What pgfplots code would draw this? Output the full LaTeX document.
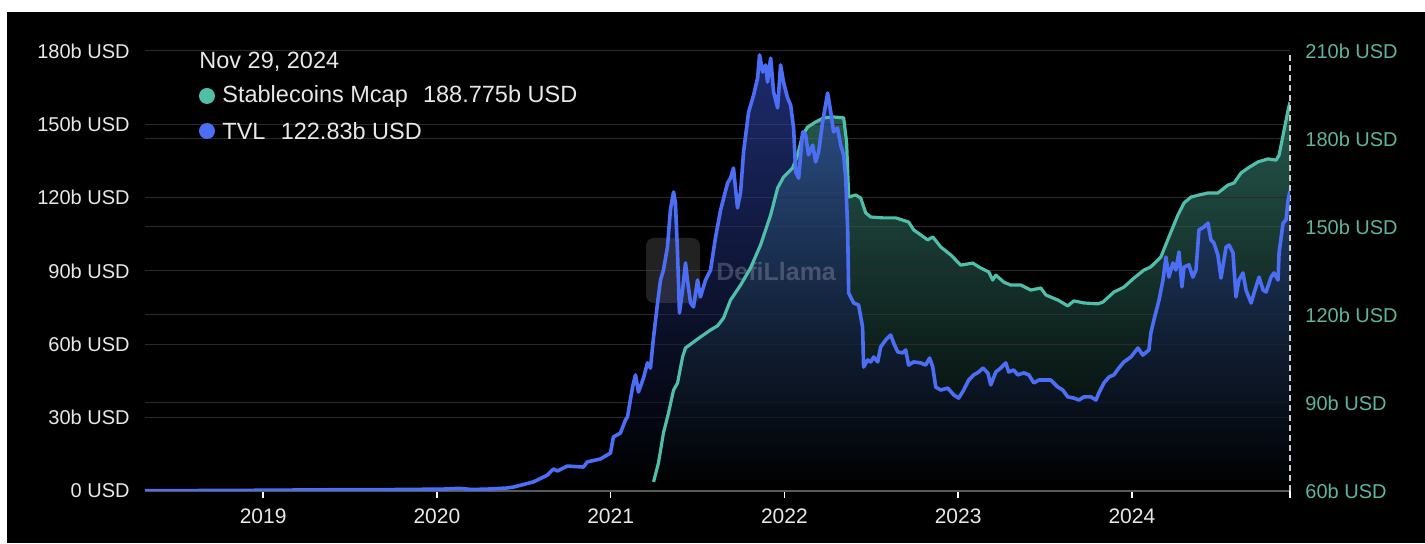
\documentclass[border=0pt]{standalone}
\usepackage{pgfplots}
\pgfplotsset{compat=1.18}
\usepackage{pgfplotstable}
\usepackage{fontspec}
\setmainfont{Liberation Sans}
\definecolor{tvl}{RGB}{75,110,245}
\definecolor{tvlfill}{RGB}{55,80,200}
\definecolor{stab}{RGB}{80,190,168}
\definecolor{stabfill}{RGB}{58,135,118}
\definecolor{stablab}{RGB}{95,180,160}
\definecolor{gridc}{RGB}{42,42,42}
\definecolor{txt}{RGB}{232,232,232}

\pgfplotstableread{
year tvl
2018.32 0.1
2018.70 0.2
2019.00 0.3
2019.40 0.5
2019.80 0.6
2020.05 0.8
2020.13 1.1
2020.20 0.6
2020.30 0.8
2020.40 1.2
2020.440 1.6
2020.555 3.7
2020.636 6.5
2020.670 9.0
2020.694 8.2
2020.751 10.2
2020.843 9.8
2020.866 11.9
2020.941 13.1
2020.999 15.5
2021.016 22.1
2021.056 23.7
2021.085 29.0
2021.097 30.3
2021.126 42.5
2021.143 47.5
2021.160 40.5
2021.189 46.2
2021.212 52.4
2021.229 50.3
2021.247 63.0
2021.270 76.9
2021.287 86.3
2021.304 90.4
2021.327 99.8
2021.344 115.0
2021.362 122.3
2021.373 117.8
2021.385 97.4
2021.396 72.8
2021.414 82.2
2021.431 93.3
2021.442 86.3
2021.460 76.9
2021.477 75.3
2021.500 86.3
2021.517 79.4
2021.546 86.3
2021.575 90.4
2021.604 103.9
2021.633 115.0
2021.673 126.0
2021.690 128.0
2021.707 132.1
2021.730 115.8
2021.748 122.3
2021.765 138.7
2021.794 155.0
2021.823 162.0
2021.846 169.0
2021.857 178.4
2021.875 171.4
2021.892 174.3
2021.903 167.3
2021.921 177.1
2021.938 163.2
2021.961 156.7
2021.978 174.3
2021.995 167.3
2022.018 160.8
2022.036 157.9
2022.053 148.5
2022.065 130.5
2022.082 128.0
2022.105 146.9
2022.122 145.6
2022.139 137.5
2022.163 141.5
2022.180 134.6
2022.197 138.7
2022.220 151.0
2022.249 162.8
2022.267 155.0
2022.283 146.9
2022.306 148.5
2022.324 141.5
2022.341 137.5
2022.353 128.0
2022.364 107.6
2022.370 81.0
2022.381 79.4
2022.399 76.9
2022.427 76.1
2022.450 67.1
2022.456 50.7
2022.479 53.6
2022.497 52.8
2022.514 54.8
2022.537 52.8
2022.554 58.9
2022.583 61.8
2022.612 63.8
2022.629 60.5
2022.652 56.9
2022.681 56.5
2022.698 57.7
2022.715 51.5
2022.744 52.8
2022.785 52.4
2022.813 51.5
2022.836 54.4
2022.854 50.7
2022.871 42.5
2022.900 41.3
2022.940 42.1
2022.975 39.3
2023.003 38.0
2023.032 41.3
2023.061 45.4
2023.090 47.5
2023.119 48.7
2023.142 50.3
2023.171 48.3
2023.188 43.4
2023.217 48.7
2023.245 50.3
2023.274 52.4
2023.291 48.7
2023.320 49.5
2023.343 47.5
2023.378 48.3
2023.407 47.5
2023.436 44.2
2023.464 45.4
2023.505 45.4
2023.533 45.4
2023.574 42.5
2023.602 41.3
2023.631 38.5
2023.666 38.0
2023.695 37.2
2023.724 38.5
2023.764 38.5
2023.793 37.2
2023.810 40.1
2023.839 44.2
2023.868 46.6
2023.896 47.5
2023.925 50.3
2023.954 52.8
2023.994 54.8
2024.035 58.5
2024.063 55.6
2024.098 57.7
2024.109 64.6
2024.127 70.0
2024.156 78.1
2024.179 86.3
2024.196 95.7
2024.213 87.5
2024.236 93.3
2024.253 90.4
2024.271 97.8
2024.288 83.5
2024.300 91.6
2024.328 92.5
2024.351 87.5
2024.369 90.4
2024.386 106.8
2024.415 108.0
2024.438 109.6
2024.455 102.7
2024.472 101.5
2024.495 96.5
2024.513 87.1
2024.542 99.8
2024.559 100.6
2024.582 97.4
2024.599 79.4
2024.616 86.3
2024.639 89.2
2024.657 82.2
2024.686 76.9
2024.703 81.0
2024.732 87.5
2024.755 82.2
2024.772 81.4
2024.801 87.5
2024.818 89.2
2024.841 86.3
2024.847 97.4
2024.870 109.6
2024.887 110.9
2024.899 119.0
2024.910 122.8
}\tvltable

\pgfplotstableread{
year stab
2021.247 63.1
2021.275 69.5
2021.304 79.8
2021.333 86.6
2021.362 94.4
2021.385 96.8
2021.414 105.7
2021.431 108.8
2021.471 110.5
2021.517 112.5
2021.575 114.9
2021.615 116.3
2021.650 119.0
2021.690 125.1
2021.748 130.2
2021.805 136.0
2021.863 143.9
2021.921 154.1
2021.961 163.3
2021.995 167.0
2022.047 170.1
2022.076 174.5
2022.105 181.4
2022.134 184.1
2022.180 185.8
2022.226 187.2
2022.283 187.5
2022.341 187.2
2022.358 179.0
2022.370 160.2
2022.410 160.9
2022.439 159.9
2022.468 154.8
2022.497 153.4
2022.571 153.1
2022.641 153.1
2022.715 151.7
2022.744 149.0
2022.785 147.3
2022.825 145.6
2022.854 146.6
2022.900 143.2
2022.957 140.5
2023.015 137.0
2023.084 137.7
2023.130 136.0
2023.176 134.7
2023.199 131.9
2023.217 133.6
2023.263 131.2
2023.303 130.2
2023.361 130.2
2023.418 128.5
2023.476 129.2
2023.505 126.8
2023.574 125.1
2023.631 123.1
2023.666 124.8
2023.724 124.1
2023.804 123.8
2023.833 124.4
2023.896 127.8
2023.954 129.5
2024.012 132.6
2024.069 135.3
2024.109 136.4
2024.167 139.8
2024.213 146.6
2024.265 154.1
2024.300 158.2
2024.340 160.2
2024.386 160.9
2024.438 161.6
2024.495 161.6
2024.553 164.3
2024.588 165.0
2024.628 168.4
2024.668 170.1
2024.726 172.2
2024.783 173.2
2024.830 172.8
2024.847 174.5
2024.876 183.1
2024.899 189.9
2024.910 192.6
}\stabtable

\pgfplotsset{
  base/.style={width=572.5pt,height=220pt,scale only axis,at={(0pt,0pt)},anchor=south west,
    xmin=2018.32,xmax=2024.91,
    axis line style={draw=none}, tick style={draw=none},
    xtick={2019,2020,2021,2022,2023,2024},
    ticklabel style={font=\fontsize{10}{12}\selectfont},
    major grid style={gridc,line width=0.5pt}},
}

\begin{document}
\begin{tikzpicture}
\fill[white] (-72.5pt,-26.5pt) rectangle (640pt,245.5pt);
\fill[black] (-69pt,-26pt) rectangle (640pt,239.5pt);

% stablecoin fill (right scale) + right grid
\begin{axis}[base, ymin=60, ymax=210, ytick={60,90,...,210}, ymajorgrids,
  xticklabels={}, yticklabels={}]
\addplot[draw=none, top color=stabfill, bottom color=black, fill opacity=0.66]
  table[x=year,y=stab]{\stabtable} -- (axis cs:2024.91,60) -- (axis cs:2021.247,60) -- cycle;
\end{axis}

% TVL fill (left scale) + left grid
\begin{axis}[base, ymin=0, ymax=180, ytick={0,30,...,180}, ymajorgrids,
  xticklabels={}, yticklabels={}]
\addplot[draw=none, top color=tvlfill, bottom color=black, fill opacity=0.55]
  table[x=year,y=tvl]{\tvltable} \closedcycle;
\end{axis}

% watermark
\fill[gray!60!black, opacity=0.45, rounded corners=4pt] (250.5pt,94pt) rectangle (277.5pt,126.5pt);
\node[anchor=west, inner sep=0pt, text=white, opacity=0.2, font=\bfseries\fontsize{12.5}{14}\selectfont] at (285.5pt,109.5pt) {DefiLlama};

% stablecoin line + right labels
\begin{axis}[base, ymin=60, ymax=210, ytick={60,90,...,210},
  axis y line*=right, axis x line=none,
  yticklabels={60b USD,90b USD,120b USD,150b USD,180b USD,210b USD},
  yticklabel style={text=stablab, inner sep=0pt, anchor=west, xshift=7.5pt}]
\addplot[stab, line width=1.6pt, line join=round] table[x=year,y=stab]{\stabtable};
\end{axis}

% TVL line + left labels + x axis
\begin{axis}[base, ymin=0, ymax=180, ytick={0,30,...,180},
  axis x line*=bottom, axis y line*=left,
  x axis line style={draw=gray!70!black, line width=0.8pt, -},
  y axis line style={draw=none},
  xtick style={draw=white, line width=0.8pt}, xtick align=outside, major tick length=3.5pt,
  xticklabels={2019,2020,2021,2022,2023,2024},
  xticklabel style={text=txt, font=\fontsize{10.5}{12}\selectfont, inner sep=0pt, anchor=north, yshift=-5pt},
  yticklabels={0 USD,30b USD,60b USD,90b USD,120b USD,150b USD,180b USD},
  yticklabel style={text=txt, inner sep=0pt, anchor=east, xshift=-7.5pt},
  extra x ticks={2024.91}, extra x tick labels={},
  extra x tick style={grid=major, major grid style={white!80!black, dash pattern=on 3pt off 2pt, line width=0.6pt}, tick style={draw=none}}]
\addplot[tvl, line width=1.8pt, line join=round] table[x=year,y=tvl]{\tvltable};
\end{axis}

% legend
\node[anchor=west, inner sep=0pt, text=txt, font=\fontsize{11.75}{14}\selectfont] at (27pt,214.5pt) {Nov 29, 2024};
\fill[stab] (31pt,197.5pt) circle (4pt);
\fill[tvl] (31pt,180pt) circle (4pt);
\node[anchor=west, inner sep=0pt, text=txt, font=\fontsize{11.75}{14}\selectfont] at (38.5pt,197.5pt) {Stablecoins Mcap\hspace{0.65em}188.775b USD};
\node[anchor=west, inner sep=0pt, text=txt, font=\fontsize{11.75}{14}\selectfont] at (38.5pt,180pt) {TVL\hspace{0.65em}122.83b USD};
\end{tikzpicture}
\end{document}
